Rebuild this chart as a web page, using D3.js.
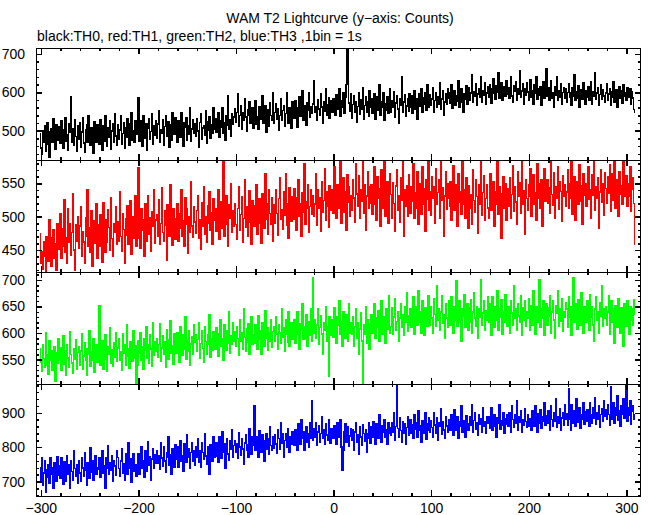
<!DOCTYPE html>
<html><head><meta charset="utf-8">
<script src="https://cdn.jsdelivr.net/npm/d3@7"></script>
<style>
html,body{margin:0;padding:0;background:#fff;}
text{font-family:"Liberation Sans",Arial,Helvetica,sans-serif;}
</style></head>
<body>
<script>
const titleText = "WAM T2 Lightcurve (y\u2212axis: Counts)";
const subtitleText = "black:TH0, red:TH1, green:TH2, blue:TH3 ,1bin = 1s";
const xStart = -301; // time of first 1-s bin
const xMajorTicks = [-300,-200,-100,0,100,200,300];

const th0 = [
492,455,438,500,470,512,446,480,521,465,432,498,505,470,530,488,452,515,476,499,
510,468,527,481,455,503,534,472,490,449,518,496,589,470,505,462,528,485,447,512,
479,520,456,497,533,468,445,502,515,471,538,490,462,509,483,441,524,497,470,515,
503,466,529,485,450,512,474,540,495,461,508,482,527,453,499,518,470,544,487,462,
515,478,502,539,466,493,521,455,508,484,530,497,463,519,548,476,501,470,527,490,
512,585,474,525,496,460,538,503,481,519,450,507,532,478,498,545,466,512,489,526,
480,518,552,471,503,494,529,462,511,540,487,498,523,458,515,476,547,505,490,533,
502,469,526,515,483,548,497,461,520,508,535,476,512,490,559,472,505,528,494,517,
486,530,499,458,521,543,478,507,514,489,552,468,523,501,537,480,516,494,561,505,
532,497,515,548,482,526,509,560,494,521,475,538,513,590,503,529,487,544,518,536,
558,521,547,596,512,539,565,503,548,527,582,536,498,554,541,575,519,533,561,507,
544,578,516,537,503,562,529,549,590,520,541,566,497,535,555,512,573,540,528,600,
519,548,571,531,557,502,540,582,527,553,564,511,545,598,533,520,561,547,506,575,
550,532,579,561,509,547,588,538,555,604,527,566,541,515,573,552,598,534,562,545,
570,630,548,563,527,581,556,540,596,562,519,575,551,610,539,568,585,532,560,577,
548,582,565,540,593,571,556,610,538,579,562,600,545,588,620,715,690,572,551,596,
533,568,590,547,575,521,563,598,542,580,555,612,530,566,589,549,575,537,603,560,
582,546,571,595,530,564,588,552,619,541,575,560,598,527,570,554,589,545,576,610,
548,578,562,601,535,572,590,556,520,583,567,640,549,575,593,538,564,582,551,596,
562,590,545,578,605,557,583,531,572,596,564,610,548,585,570,599,552,620,577,560,
594,566,583,612,549,578,600,561,589,570,625,556,582,604,540,575,597,568,610,585,
571,598,620,558,585,603,566,592,577,631,560,588,608,575,548,596,583,616,569,600,
612,580,598,645,573,601,590,622,566,595,610,587,640,575,603,592,625,570,598,615,
588,620,603,572,610,635,597,582,618,600,650,585,607,625,578,602,615,590,630,595,
612,584,605,640,590,575,618,602,628,580,610,595,655,587,603,622,570,609,593,626,
601,580,615,632,588,604,570,620,597,641,583,608,592,615,566,603,628,585,610,660,
590,612,578,605,630,584,598,560,615,592,640,578,603,587,621,569,600,612,585,608,
575,600,622,587,598,566,613,590,645,578,602,585,618,560,595,607,582,625,591,570,
603,587,615,578,596,628,570,601,589,650,582,598,611,565,594,620,583,607,590,575,
598,622,580,595,610,567,602,588,627,575,593,606,560,598,615,585,603,572,620,590,
600,578,612,595,588,610,570,602,585,555,548];

const th1 = [
475,430,448,421,462,440,418,470,452,433,495,446,425,468,480,437,459,420,490,451,
470,505,438,482,455,525,447,468,430,512,461,490,442,476,535,450,419,488,463,500,
452,486,515,440,478,462,430,498,470,540,455,483,447,509,425,472,494,460,520,438,
488,455,503,470,432,521,479,446,495,462,510,484,450,528,467,441,490,476,515,458,
492,463,538,470,448,505,481,430,497,472,516,459,486,524,444,478,500,467,531,455,
468,573,490,452,512,479,496,440,520,485,463,531,474,498,448,507,486,540,460,495,
503,471,525,458,490,544,476,463,509,487,435,518,495,470,548,481,457,512,492,466,
497,520,463,505,482,540,471,494,455,528,489,512,445,500,477,553,486,469,515,492,
475,509,532,468,495,451,521,486,545,473,500,462,517,490,538,479,506,458,527,494,
512,478,503,540,466,495,522,483,587,470,507,531,489,455,518,497,550,476,509,486,
520,488,466,512,545,479,503,530,461,497,556,484,515,470,508,539,492,458,524,501,
485,516,548,473,502,527,490,460,535,508,482,565,496,519,474,541,505,488,529,463,
518,490,540,505,472,527,558,496,511,481,537,502,565,487,520,468,544,509,493,530,
496,542,512,480,528,555,501,519,470,536,507,580,489,523,512,548,477,515,540,503,
532,500,519,565,487,541,512,528,478,553,506,524,572,495,537,515,484,546,520,509,
541,505,575,522,498,548,530,512,585,490,527,559,506,538,480,563,521,545,500,532,
510,556,528,491,580,534,515,562,497,540,523,590,505,548,479,531,567,512,545,520,
548,503,536,575,518,495,560,527,542,486,571,530,512,595,501,538,553,490,527,565,
533,498,551,520,478,546,570,509,532,492,558,524,585,470,540,515,547,501,563,528,
505,545,523,580,497,536,512,567,488,549,530,503,575,519,542,478,556,526,590,510,
538,502,560,527,545,490,572,519,536,556,498,583,525,544,470,531,568,511,549,527,
515,552,495,538,576,509,530,548,486,565,522,537,503,590,518,541,497,559,526,482,
546,512,533,488,571,524,507,555,530,475,548,519,582,502,536,561,495,527,548,513,
498,540,565,510,527,552,485,538,519,583,503,545,526,468,535,560,512,549,494,531,
542,516,558,497,533,576,508,545,522,489,567,530,551,505,590,518,539,473,556,527,
510,548,530,572,501,540,563,519,536,495,580,527,549,512,556,485,541,572,523,537,
556,520,543,505,590,533,517,566,498,545,528,575,511,552,538,493,562,530,548,515,
537,570,512,549,528,586,503,541,560,495,534,552,518,578,523,547,489,565,532,550,
515,548,575,526,540,497,563,532,587,510,545,528,559,483,537,570,521,550,502,566,
542,520,560,535,578,508,548,565,525,590,512,540,555,500,568,533,547,518,582,530,
545,562,515,550,530,575,508,541,558,520,458];

const th2 = [
570,545,528,578,552,535,600,560,540,523,585,548,566,530,555,575,510,562,543,590,
548,572,530,559,595,541,566,520,578,553,536,602,560,544,525,570,551,588,532,563,
575,540,566,598,531,557,582,548,520,571,560,605,537,565,549,590,526,563,578,545,
558,652,540,570,585,532,567,596,551,528,575,560,610,543,568,538,582,555,600,547,
572,590,549,565,530,598,561,578,540,615,556,570,533,584,563,547,605,552,576,505,
540,585,562,600,548,575,531,590,567,612,553,578,544,596,570,538,620,559,583,566,
590,555,578,618,546,572,595,560,583,535,607,569,550,588,624,562,576,541,598,571,
562,600,575,545,612,583,558,596,570,630,551,588,566,604,540,579,593,560,615,582,
597,565,588,620,553,580,605,571,545,612,584,560,596,578,635,555,590,568,602,575,
570,610,582,556,598,625,575,590,548,615,587,568,604,580,640,562,595,578,620,585,
603,575,612,590,558,625,584,600,570,645,592,565,608,583,617,560,598,630,578,596,
580,615,595,570,632,588,605,560,620,598,575,642,590,610,568,600,585,625,573,603,
612,585,630,598,570,615,600,580,645,592,610,565,625,598,583,640,575,605,620,588,
595,625,580,610,640,598,570,618,605,655,588,612,590,635,575,608,622,596,645,585,
704,600,625,590,615,645,578,610,632,598,560,620,605,650,585,612,518,630,595,610,
625,592,648,608,580,630,615,660,598,622,575,640,606,590,635,612,585,655,600,620,
598,630,575,612,645,590,620,560,608,638,585,505,615,598,650,580,625,603,570,618,
635,600,622,655,590,628,610,642,585,618,660,597,630,612,580,645,608,625,670,600,
612,648,598,630,665,605,622,640,585,628,655,610,635,595,650,620,675,603,632,615,
645,610,638,668,598,627,650,615,680,620,640,600,660,625,595,648,630,612,670,622,
615,650,628,600,665,635,612,690,625,645,605,640,670,618,635,590,655,628,610,660,
640,615,668,630,600,650,625,698,612,640,660,620,585,645,632,672,610,638,655,605,
648,620,662,600,640,675,628,612,650,590,645,630,700,615,638,660,605,642,625,668,
620,655,632,595,668,640,610,650,625,680,605,645,630,662,598,640,620,672,635,612,
650,625,600,660,638,615,690,628,645,605,655,632,620,670,595,648,625,660,612,640,
628,665,605,640,652,615,680,630,598,650,635,620,700,610,645,628,660,595,642,655,
615,648,632,670,600,640,660,625,590,652,638,680,612,645,622,665,603,640,630,658,
645,610,668,630,650,595,640,705,620,655,632,608,662,640,615,675,628,600,650,635,
620,660,638,605,672,630,650,615,585,645,668,625,640,600,658,632,690,612,645,628,
650,615,640,670,598,632,660,620,645,580,652,630,610,665,638,600,648,625,575,655,
630,612,660,640,598,650,625,645,615,662,635];

const th3 = [
740,705,770,690,725,760,668,735,712,750,695,768,720,740,680,755,730,700,772,718,
745,710,768,725,692,758,735,700,775,720,748,682,762,730,705,790,738,715,750,695,
760,725,702,770,740,715,785,732,690,755,745,710,798,728,760,705,748,775,720,740,
735,770,712,758,790,725,745,680,768,740,805,720,755,732,775,700,762,745,718,790,
770,738,715,760,795,725,752,705,780,745,720,812,740,765,698,758,782,730,750,715,
745,782,720,768,800,738,760,712,790,755,730,815,748,772,705,765,795,740,778,752,
790,752,775,735,812,768,745,800,760,728,785,770,830,748,778,720,795,765,742,808,
765,800,742,785,820,758,775,730,810,780,755,835,770,795,740,785,812,760,790,748,
800,770,825,755,790,742,812,785,765,838,775,750,800,782,720,808,790,760,830,772,
775,812,790,755,830,798,768,845,785,810,740,800,825,780,762,818,795,850,772,805,
820,785,810,768,842,800,778,825,795,750,812,835,790,808,770,855,798,780,830,805,
922,790,830,805,772,848,810,785,835,820,760,815,840,795,825,780,860,805,790,830,
798,835,810,782,850,825,795,870,812,840,770,820,838,800,855,815,785,830,808,845,
840,805,850,820,792,868,830,810,880,825,845,790,835,860,815,840,800,870,825,935,
820,855,830,870,805,845,862,815,840,890,825,850,808,868,835,820,880,840,812,855,
850,825,862,835,810,870,845,828,880,800,734,790,845,868,815,840,860,802,832,855,
820,850,790,845,872,815,835,780,860,830,805,865,840,818,850,785,838,870,825,812,
860,830,875,842,810,868,850,825,895,838,815,862,845,880,828,850,808,872,840,858,
835,870,845,900,820,860,980,855,830,885,848,815,875,842,868,810,858,890,835,862,
880,840,865,825,895,852,870,830,905,848,862,815,878,855,840,900,822,868,850,885,
845,878,858,830,900,865,842,885,820,870,860,912,838,875,850,825,890,862,845,880,
880,850,895,862,835,910,870,848,888,825,875,860,920,845,878,855,830,892,868,850,
858,890,865,925,845,878,900,852,870,835,895,868,882,845,915,860,875,840,888,870,
890,855,880,915,848,872,895,860,830,885,870,925,852,878,865,900,840,882,868,895,
862,900,875,845,920,880,858,895,870,935,850,888,872,905,845,880,865,912,875,858,
895,860,880,882,850,905,878,862,920,885,845,898,870,910,855,888,875,930,865,892,
870,905,885,850,920,880,862,900,875,940,858,890,870,912,848,885,900,865,925,880,
898,865,970,880,850,925,888,870,905,860,940,885,872,915,855,895,880,930,868,902,
875,910,888,860,930,895,870,915,885,945,868,900,882,920,858,895,912,875,935,890,
910,880,925,895,865,975,900,882,930,870,915,892,950,878,905,860,920,895,940,885,
900,980,875,915,892,935,868,905,920,880,895];

const seriesColors = ["#000000","#ff0000","#00ff00","#0000ff"];
const yDomains = [[424,715],[417,585],[504,715],[658,984]];
const yMajorTicks = [[500,600,700],[450,500,550],[550,600,650,700],[700,800,900]];
const yMinorStep = [20,10,10,20];
const series = [th0, th1, th2, th3];

const W = 652, H = 515;
const left = 36, right = 641;
const panelTops = [48,160,272,384];
const panelH = 112;

const svg = d3.select("body").append("svg").attr("width",W).attr("height",H);
svg.append("rect").attr("width",W).attr("height",H).attr("fill","#fff");

const x = d3.scaleLinear().domain([-305,315]).range([left,right]);
const xMinor = d3.range(-300,311,20).filter(v=>!xMajorTicks.includes(v));

svg.append("text").attr("x",340).attr("y",23).attr("text-anchor","middle")
  .attr("font-size",14).text(titleText);
svg.append("text").attr("x",37).attr("y",41).attr("text-anchor","start")
  .attr("font-size",14).text(subtitleText);

series.forEach((data,i)=>{
  const top = panelTops[i], bot = top + panelH;
  const y = d3.scaleLinear().domain(yDomains[i]).range([bot,top]);
  const cid = "clip"+i;
  svg.append("clipPath").attr("id",cid).append("rect")
    .attr("x",left).attr("y",top).attr("width",right-left).attr("height",panelH);
  const line = d3.line().x((d,j)=>x(xStart+j)).y(d=>y(d)).curve(d3.curveStep);
  svg.append("path").datum(data).attr("clip-path",`url(#${cid})`)
    .attr("fill","none").attr("stroke",seriesColors[i]).attr("stroke-width",1.5)
    .attr("shape-rendering","crispEdges")
    .attr("d",line);

  const g = svg.append("g").attr("font-size",14).attr("shape-rendering","crispEdges");
  const styleAxis = a => { a.select(".domain").remove(); a.selectAll("line").attr("stroke","#000").attr("stroke-width",1.5);
    a.selectAll("text").attr("fill","#000").attr("font-family",'"Liberation Sans",Arial,sans-serif').attr("font-size",14); };

  g.append("g").attr("transform",`translate(0,${bot})`)
    .call(d3.axisBottom(x).tickValues(xMajorTicks).tickSize(-6).tickPadding(7)
      .tickFormat(i===3 ? d3.format("d") : ""))
    .call(styleAxis);
  g.append("g").attr("transform",`translate(0,${bot})`)
    .call(d3.axisBottom(x).tickValues(xMinor).tickSize(-3).tickFormat(""))
    .call(styleAxis);
  g.append("g").attr("transform",`translate(0,${top})`)
    .call(d3.axisTop(x).tickValues(xMajorTicks).tickSize(-6).tickFormat(""))
    .call(styleAxis);
  g.append("g").attr("transform",`translate(0,${top})`)
    .call(d3.axisTop(x).tickValues(xMinor).tickSize(-3).tickFormat(""))
    .call(styleAxis);

  const st = yMinorStep[i];
  const dom = yDomains[i];
  const yMinor = d3.range(Math.ceil(dom[0]/st)*st, dom[1]+0.001, st).filter(v=>!yMajorTicks[i].includes(v));
  g.append("g").attr("transform",`translate(${left},0)`)
    .call(d3.axisLeft(y).tickValues(yMajorTicks[i]).tickSize(-6).tickPadding(11).tickFormat(d3.format("d")))
    .call(styleAxis);
  g.append("g").attr("transform",`translate(${left},0)`)
    .call(d3.axisLeft(y).tickValues(yMinor).tickSize(-3).tickFormat(""))
    .call(styleAxis);
  g.append("g").attr("transform",`translate(${right},0)`)
    .call(d3.axisRight(y).tickValues(yMajorTicks[i]).tickSize(-6).tickFormat(""))
    .call(styleAxis);
  g.append("g").attr("transform",`translate(${right},0)`)
    .call(d3.axisRight(y).tickValues(yMinor).tickSize(-3).tickFormat(""))
    .call(styleAxis);

  svg.append("rect").attr("x",left+0.5).attr("y",top+0.5)
    .attr("width",right-left-1).attr("height",panelH)
    .attr("fill","none").attr("stroke","#000").attr("stroke-width",1.5)
    .attr("shape-rendering","crispEdges");
});
</script>
</body></html>
